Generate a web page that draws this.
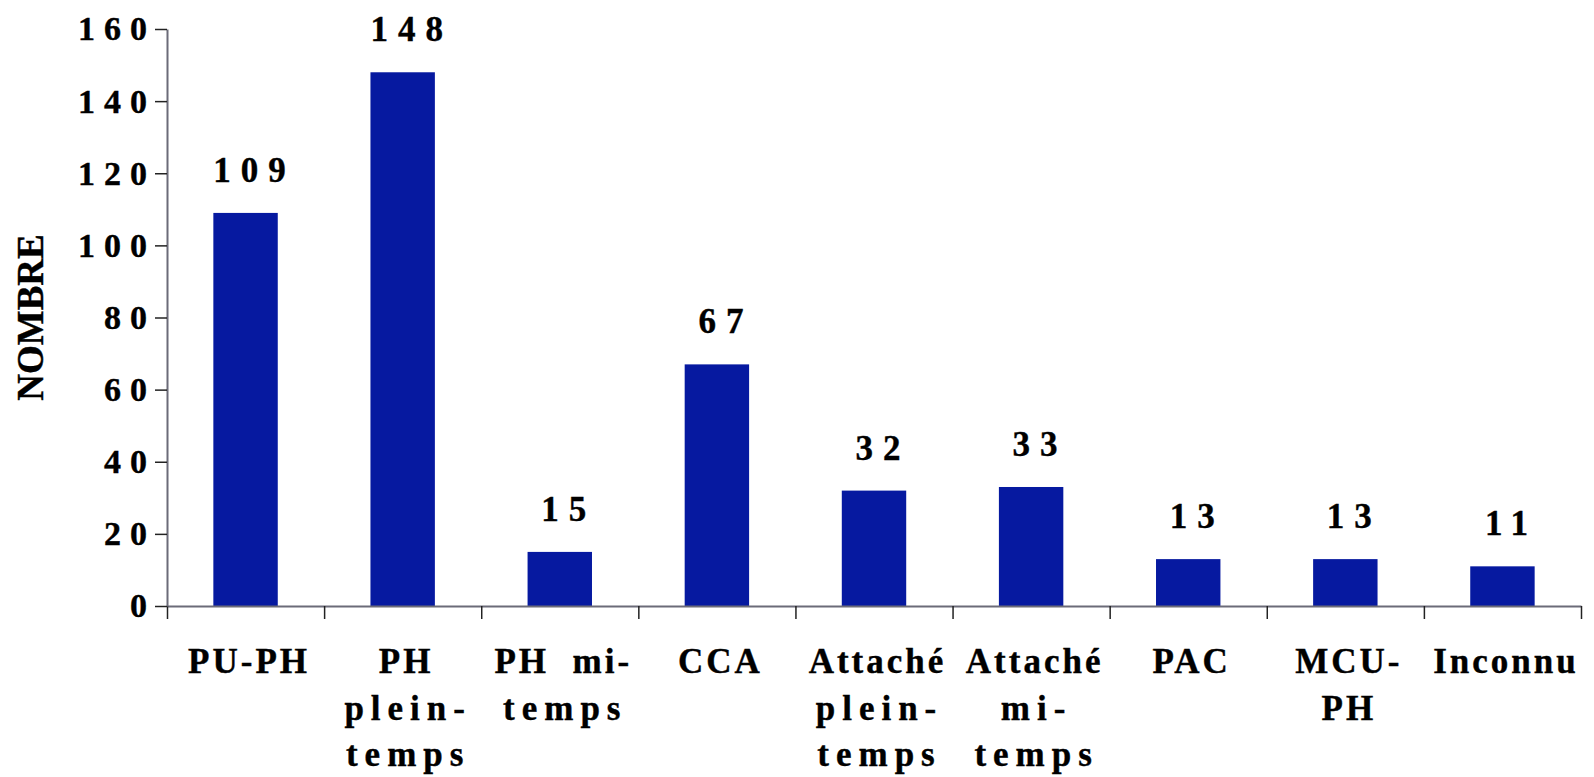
<!DOCTYPE html>
<html>
<head>
<meta charset="utf-8">
<script src="https://cdn.jsdelivr.net/npm/d3@7"></script>
<style>
  html, body { margin: 0; padding: 0; background: #fff; }
  svg { display: block; }
  text { font-family: 'Liberation Serif', 'Times New Roman', serif; font-weight: bold; fill: #000; stroke: #000; stroke-width: 0.4px; }
  .axis .domain { stroke: #6b6b78; stroke-width: 2px; }
  .axis line { stroke: #222; stroke-width: 1.5px; }
</style>
</head>
<body>
<div id="chart"></div>
<script>
var categories = ['PU-PH', 'PH plein-temps', 'PH mi-temps', 'CCA', 'Attaché plein-temps',
  'Attaché mi-temps', 'PAC', 'MCU-PH', 'Inconnu'];
var values = [109, 148, 15, 67, 32, 33, 13, 13, 11];
var labelLines = [
  ['PU-PH'],
  ['PH', 'plein-', 'temps'],
  ['PH  mi-', 'temps'],
  ['CCA'],
  ['Attaché', 'plein-', 'temps'],
  ['Attaché', 'mi-', 'temps'],
  ['PAC'],
  ['MCU-', 'PH'],
  ['Inconnu']
];
var yTicks = [0, 20, 40, 60, 80, 100, 120, 140, 160];
var yTitle = 'NOMBRE';

var width = 1594,
  height = 777;
var margin = { top: 29, right: 13, bottom: 171, left: 167 };

var svg = d3
  .select('#chart')
  .append('svg')
  .attr('width', width)
  .attr('height', height);

var x = d3
  .scaleBand()
  .domain(categories)
  .range([margin.left, width - margin.right])
  .paddingInner(0.59)
  .paddingOuter(0.295);

// tick marks sit on the category boundaries
var xEdges = d3
  .scaleLinear()
  .domain([0, categories.length])
  .range([margin.left, width - margin.right]);

var y = d3
  .scaleLinear()
  .domain([0, 160])
  .range([height - margin.bottom, margin.top]);

// bars
svg
  .selectAll('rect.bar')
  .data(values)
  .enter()
  .append('rect')
  .attr('class', 'bar')
  .attr('x', function(d, i) {
    return x(categories[i]);
  })
  .attr('y', function(d) {
    return y(d);
  })
  .attr('width', x.bandwidth())
  .attr('height', function(d) {
    return y(0) - y(d);
  })
  .attr('fill', '#0619a0');

// x axis
svg
  .append('g')
  .attr('class', 'axis x')
  .attr('transform', 'translate(0,' + y(0) + ')')
  .call(
    d3
      .axisBottom(xEdges)
      .tickValues(d3.range(0, categories.length + 1))
      .tickSize(13)
      .tickSizeOuter(0)
      .tickFormat('')
  );

// y axis
var yAxis = svg
  .append('g')
  .attr('class', 'axis y')
  .attr('transform', 'translate(' + margin.left + ',0)')
  .call(
    d3
      .axisLeft(y)
      .tickValues(yTicks)
      .tickSize(12)
      .tickSizeOuter(0)
  );
yAxis
  .selectAll('text')
  .attr('x', -11)
  .attr('dy', '0.32em')
  .style('font-size', '34px')
  .style('letter-spacing', '9px')
  .style('font-family', "'Liberation Serif', serif")
  .style('font-weight', 'bold');

// category labels, lower-case lines are spread wider like the original
function spacing(s) {
  return /^[a-z]/.test(s) ? 7 : 3;
}
var labels = svg
  .selectAll('text.cat')
  .data(labelLines)
  .enter()
  .append('text')
  .attr('class', 'cat')
  .attr('text-anchor', 'middle')
  .attr('y', y(0) + 67)
  .style('font-size', '35px')
  .style('white-space', 'pre');
labels
  .selectAll('tspan')
  .data(function(d, i) {
    return d.map(function(s) {
      return { s: s, i: i };
    });
  })
  .enter()
  .append('tspan')
  .attr('x', function(d) {
    return x(categories[d.i]) + x.bandwidth() / 2 + spacing(d.s) / 2 + 2;
  })
  .attr('dy', function(d, j) {
    return j === 0 ? 0 : 46.5;
  })
  .style('letter-spacing', function(d) {
    return spacing(d.s) + 'px';
  })
  .text(function(d) {
    return d.s;
  });

// value labels
svg
  .selectAll('text.val')
  .data(values)
  .enter()
  .append('text')
  .attr('class', 'val')
  .attr('text-anchor', 'middle')
  .attr('x', function(d, i) {
    return x(categories[i]) + x.bandwidth() / 2 + 9;
  })
  .attr('y', function(d) {
    return y(d) - 31;
  })
  .style('font-size', '35px')
  .style('letter-spacing', '10px')
  .text(function(d) {
    return d;
  });

// y title
svg
  .append('text')
  .attr('transform', 'translate(43,' + (margin.top + (y(0) - margin.top) / 2) + ') rotate(-90)')
  .attr('text-anchor', 'middle')
  .style('font-size', '37px')
  .text(yTitle);
</script>
</body>
</html>
